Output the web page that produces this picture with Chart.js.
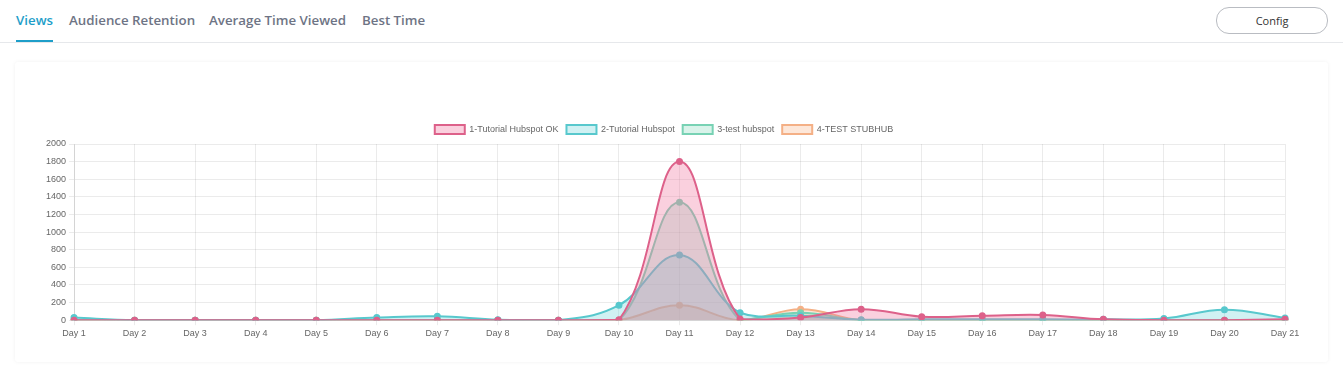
<!DOCTYPE html>
<html lang="en">
<head>
<meta charset="UTF-8">
<title>Views</title>
<style>
body { margin: 0; background: #fff; font-family: 'Open Sans', sans-serif; width: 1343px; height: 375px; position: relative; overflow: hidden; }
.tabs { position: absolute; left: 0; top: 0; width: 1343px; height: 42px; border-bottom: 1px solid #e6e8eb; }
.tab { position: absolute; top: 11px; font-size: 13.3px; font-weight: 600; color: #6e7485; }
.tab.active { color: #1e9ec9; }
.tab.active::after { content: ''; position: absolute; left: 0; right: 0; top: 29px; height: 2px; background: #1e9ec9; }
.config { position: absolute; left: 1216px; top: 7px; width: 110px; height: 25px; border: 1px solid #b9bcc2; border-radius: 13px; font-size: 11px; color: #333; text-align: center; line-height: 25px; }
.card { position: absolute; left: 15px; top: 62px; width: 1313px; height: 300px; background: #fff; box-shadow: 0 0 4px rgba(0,0,0,0.06); border-radius: 3px; }
.chart-wrap { position: absolute; left: 5px; top: 50px; width: 1303px; height: 230px; }
</style>
</head>
<body>
<div class="tabs">
    <span class="tab active" style="left:16px">Views</span>
    <span class="tab" style="left:69px">Audience Retention</span>
    <span class="tab" style="left:209px">Average Time Viewed</span>
    <span class="tab" style="left:362px">Best Time</span>
    <div class="config">Config</div>
</div>
<div class="card">
    <div class="chart-wrap"><canvas id="viewsChart"></canvas></div>
</div>
<script src="https://cdn.jsdelivr.net/npm/chart.js"></script>
<script>
const days = ['Day 1', 'Day 2', 'Day 3', 'Day 4', 'Day 5', 'Day 6', 'Day 7', 'Day 8', 'Day 9', 'Day 10', 'Day 11',
    'Day 12', 'Day 13', 'Day 14', 'Day 15', 'Day 16', 'Day 17', 'Day 18', 'Day 19', 'Day 20', 'Day 21'];
const seriesNames = ['1-Tutorial Hubspot OK', '2-Tutorial Hubspot', '3-test hubspot', '4-TEST STUBHUB'];
const tutorialOk = [0, 0, 0, 0, 0, 0, 0, 0, 0, 5, 1800, 15, 30, 125, 40, 50, 60, 10, 0, 0, 10];
const tutorial = [30, 0, 0, 0, 0, 30, 45, 5, 0, 170, 740, 85, 50, 5, 10, 10, 10, 10, 20, 120, 25];
const testHubspot = [0, 0, 0, 0, 0, 0, 0, 0, 0, 0, 1340, 0, 85, 0, 0, 0, 0, 0, 0, 0, 0];
const testStubhub = [0, 0, 0, 0, 0, 0, 0, 0, 0, 0, 170, 0, 125, 0, 0, 0, 0, 0, 0, 0, 0];
const yTicks = [0, 200, 400, 600, 800, 1000, 1200, 1400, 1600, 1800, 2000];

const lineColors = ['rgb(221,97,138)', 'rgb(88,200,205)', 'rgb(120,210,180)', 'rgb(244,176,134)'];
const fillColors = ['rgba(240,120,160,0.35)', 'rgba(100,210,215,0.3)', 'rgba(130,215,185,0.3)', 'rgba(248,185,145,0.35)'];
const allSeries = [tutorialOk, tutorial, testHubspot, testStubhub];

new Chart(document.getElementById('viewsChart'), {
    type: 'line',
    data: {
        labels: days,
        datasets: allSeries.map((data, i) => ({
            label: seriesNames[i],
            data: data,
            borderColor: lineColors[i],
            backgroundColor: fillColors[i],
            pointBackgroundColor: lineColors[i],
            borderWidth: 2,
            pointRadius: 2.5,
            tension: 0.4,
            fill: 'origin'
        }))
    },
    options: {
        responsive: true,
        maintainAspectRatio: false,
        animation: false,
        layout: { padding: { top: 5, right: 38, left: 23, bottom: 0 } },
        plugins: {
            legend: {
                labels: { boxWidth: 30, boxHeight: 9, font: { size: 9, family: 'Liberation Sans' }, color: '#666', padding: 8 }
            },
            tooltip: { enabled: false }
        },
        scales: {
            x: {
                grid: { color: 'rgba(0,0,0,0.08)', tickLength: 5 },
                ticks: { font: { size: 9, family: 'Liberation Sans' }, color: '#666', maxRotation: 0, autoSkip: false }
            },
            y: {
                min: 0, max: 2000,
                afterBuildTicks: axis => { axis.ticks = yTicks.map(v => ({ value: v })); },
                grid: { color: 'rgba(0,0,0,0.08)', tickLength: 5 },
                ticks: { font: { size: 9, family: 'Liberation Sans' }, color: '#666', callback: v => String(v) }
            }
        }
    }
});
</script>
</body>
</html>
